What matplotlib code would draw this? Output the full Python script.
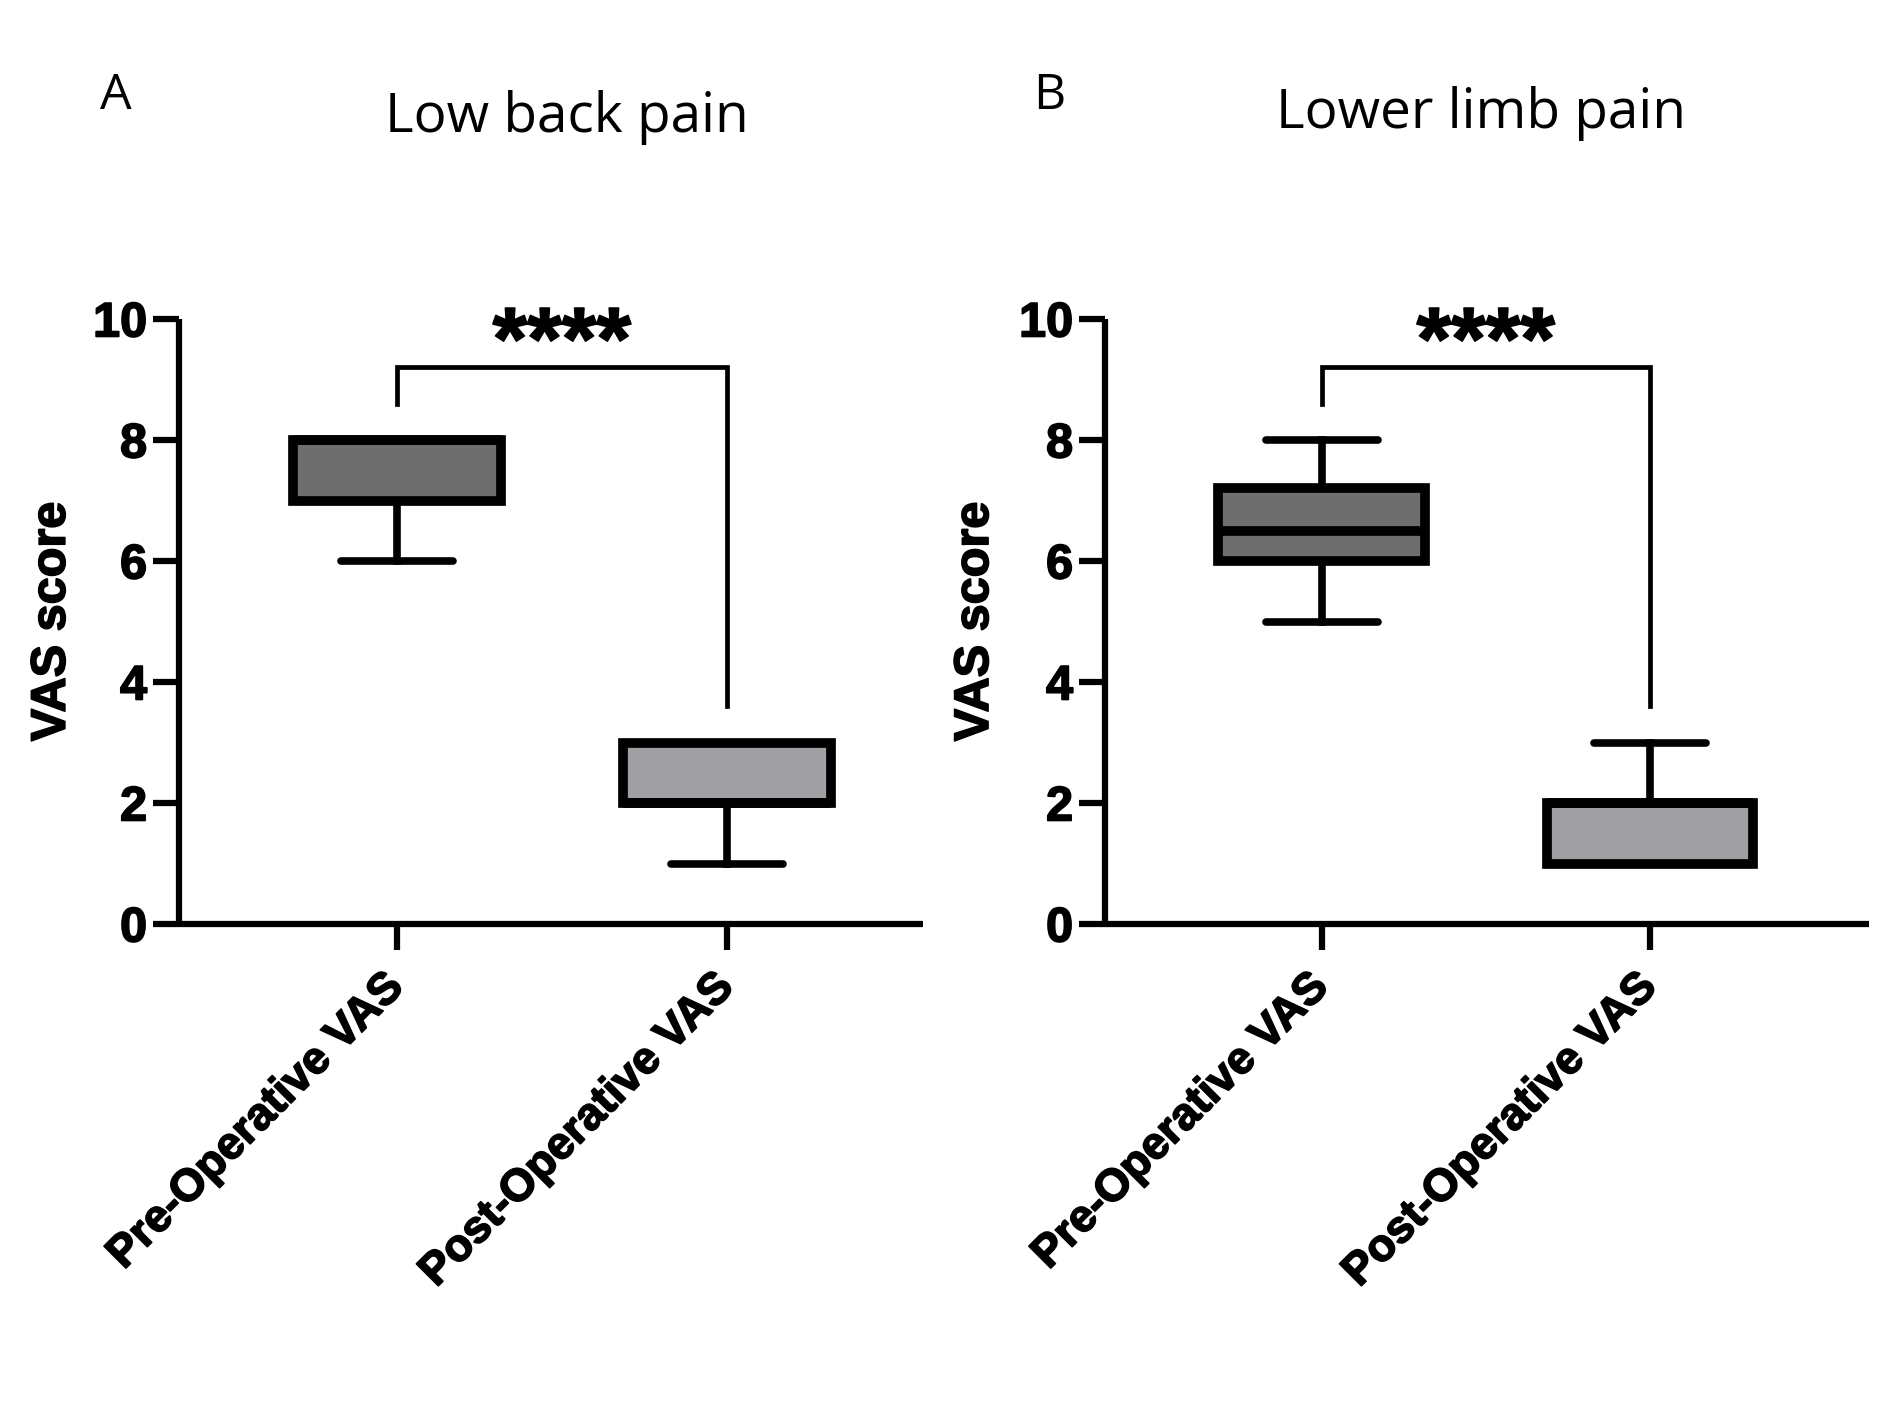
import matplotlib
matplotlib.use("Agg")
import matplotlib.pyplot as plt
import matplotlib.patheffects as pe

# box statistics
groups = ["Pre-Operative VAS", "Post-Operative VAS"]
panel_titles = ["Low back pain", "Lower limb pain"]
panel_letters = ["A", "B"]

low_back_q1 = [7.0, 2.0]
low_back_med = [8.0, 2.0]
low_back_q3 = [8.0, 3.0]
low_back_whislo = [6.0, 1.0]
low_back_whishi = [8.0, 3.0]

lower_limb_q1 = [6.0, 1.0]
lower_limb_med = [6.5, 2.0]
lower_limb_q3 = [7.2, 2.0]
lower_limb_whislo = [5.0, 1.0]
lower_limb_whishi = [8.0, 3.0]

y_ticks = [0, 2, 4, 6, 8, 10]
sig_label = "****"
bracket_top = 9.2
bracket_left_end = 8.6
bracket_right_end = 3.6

fills = ["#6e6e6e", "#a0a0a4"]

BOLD = "Liberation Sans"
TITLE = "Open Sans"
heavy = [pe.withStroke(linewidth=1.2, foreground="black")]


def make_stats(q1, med, q3, lo, hi):
    return [
        {"q1": q1[i], "med": med[i], "q3": q3[i], "whislo": lo[i], "whishi": hi[i], "fliers": []}
        for i in range(len(q1))
    ]


def draw_panel(ax, stats, xlim):
    pos = list(range(len(stats)))
    bp = ax.bxp(
        stats,
        positions=pos,
        widths=0.63,
        patch_artist=True,
        showfliers=False,
        boxprops=dict(linewidth=7, edgecolor="black"),
        medianprops=dict(linewidth=7, color="black", solid_capstyle="butt"),
        whiskerprops=dict(linewidth=5.5, color="black"),
        capprops=dict(linewidth=5.5, color="black", solid_capstyle="round"),
        capwidths=0.34,
    )
    for patch, c in zip(bp["boxes"], fills):
        patch.set_facecolor(c)
        patch.set_joinstyle("miter")

    ax.plot([pos[0], pos[0], pos[1], pos[1]],
            [bracket_left_end, bracket_top, bracket_top, bracket_right_end],
            color="black", linewidth=3.4, solid_joinstyle="miter", clip_on=False)
    ax.text((pos[0] + pos[1]) / 2, 9.17, sig_label, ha="center", va="baseline",
            fontsize=64, fontweight="bold", family=BOLD, clip_on=False, path_effects=heavy)

    ax.set_xlim(*xlim)
    ax.set_ylim(0, 10)
    ax.set_yticks(y_ticks)
    ax.set_xticks(pos)
    ax.set_xticklabels(groups, rotation=45, ha="right", va="center", rotation_mode="anchor",
                       fontsize=32.5, fontweight="bold", family=BOLD)
    for lab in ax.get_xticklabels():
        lab.set_path_effects(heavy)
    for lab in ax.get_yticklabels():
        lab.set_fontsize(35)
        lab.set_fontweight("bold")
        lab.set_family(BOLD)
        lab.set_path_effects(heavy)
    ax.spines["top"].set_visible(False)
    ax.spines["right"].set_visible(False)
    for s in ("left", "bottom"):
        ax.spines[s].set_linewidth(4.5)
        ax.spines[s].set_capstyle("butt")
    ax.tick_params(axis="both", width=4.5, length=19)
    ax.tick_params(axis="y", pad=4)
    ax.tick_params(axis="x", pad=22)

    ax.set_ylabel("VAS score", fontsize=35, fontweight="bold", family=BOLD,
                  path_effects=heavy)
    ax.yaxis.set_label_coords(-0.140, 0.5)


fig = plt.figure(figsize=(18.9, 14.17), dpi=100)
fig.patch.set_facecolor("white")

ax_a = fig.add_axes([179 / 1890, 1 - 924 / 1417, (923 - 179) / 1890, (924 - 319) / 1417])
ax_b = fig.add_axes([1105 / 1890, 1 - 924 / 1417, (1869 - 1105) / 1890, (924 - 319) / 1417])

draw_panel(ax_a, make_stats(low_back_q1, low_back_med, low_back_q3, low_back_whislo, low_back_whishi),
           (-0.66, 1.594))
draw_panel(ax_b, make_stats(lower_limb_q1, lower_limb_med, lower_limb_q3, lower_limb_whislo, lower_limb_whishi),
           (-0.66, 1.667))

fig.text(567 / 1890, 0.917, panel_titles[0], ha="center", va="center", fontsize=39.5, family=TITLE)
fig.text(1481 / 1890, 0.920, panel_titles[1], ha="center", va="center", fontsize=39.5, family=TITLE)
fig.text(116 / 1890, 0.932, panel_letters[0], ha="center", va="center", fontsize=36, family=TITLE)
fig.text(1049 / 1890, 0.932, panel_letters[1], ha="center", va="center", fontsize=36, family=TITLE)

fig.savefig("out.png", dpi=100, facecolor="white")
